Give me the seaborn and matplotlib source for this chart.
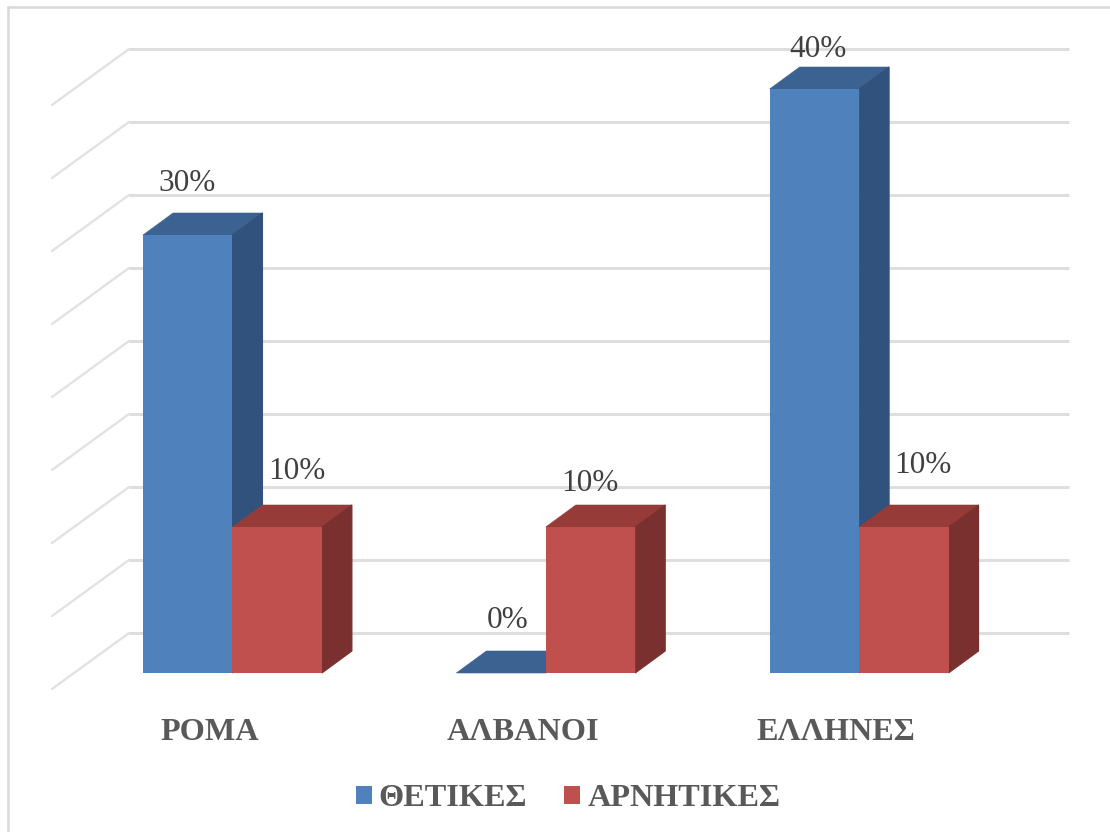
import matplotlib
matplotlib.use("Agg")
import matplotlib.pyplot as plt
from matplotlib.lines import Line2D
from matplotlib.patches import Patch, Polygon
from matplotlib.transforms import ScaledTranslation
import numpy as np
import pandas as pd
import seaborn as sns

# Survey data
groups = ["ΡΟΜΑ", "ΑΛΒΑΝΟΙ", "ΕΛΛΗΝΕΣ"]
positive = [30, 0, 40]
negative = [10, 10, 10]
series_names = ["ΘΕΤΙΚΕΣ", "ΑΡΝΗΤΙΚΕΣ"]
gridline_values = [0, 5, 10, 15, 20, 25, 30, 35, 40]

# Colours per series: front, top and side faces
front_colors = ["#4F81BD", "#C0504D"]
top_colors = ["#3B6291", "#973B38"]
side_colors = ["#31527C", "#7A302E"]

sns.set_theme(style="white")
plt.rcParams["font.family"] = ["Liberation Serif", "DejaVu Serif"]

W, H = 1110, 832
fig = plt.figure(figsize=(W / 100, H / 100), dpi=100, facecolor="white")
ax = fig.add_axes([52 / W, 1 - 689 / H, (1069 - 52) / W, (689 - 49) / H])

df = pd.DataFrame({
    "group": groups * 2,
    "series": [series_names[0]] * 3 + [series_names[1]] * 3,
    "value": positive + negative,
})
bar_width = 0.571
sns.barplot(data=df, x="group", y="value", hue="series", order=groups,
            hue_order=series_names, palette=front_colors, width=bar_width,
            gap=0, saturation=1, legend=False, linewidth=0, ax=ax)

x_left, x_right = -0.576, 2.670
y_bottom, y_top = -1.096, 42.74
ax.set_xlim(x_left, x_right)
ax.set_ylim(y_bottom, y_top)

# Oblique offsets of the chart box and of the bars, in data units
wall_dx, wall_dy = 0.2458, 3.836
bar_dx, bar_dy = 0.0958, 1.507

# Back wall gridlines with their slanted continuation along the side wall
for v in gridline_values:
    back = v + y_bottom + wall_dy
    ax.plot([x_left + wall_dx, x_right], [back, back], color="#DEDEDE", lw=2.2,
            zorder=1, solid_capstyle="butt", clip_on=False)
    ax.plot([x_left, x_left + wall_dx], [v + y_bottom, back], color="#E2E2E2", lw=1.7,
            zorder=1, solid_capstyle="round", clip_on=False)

# Extruded faces for every bar; the second series sits in front of the first
for s, container in enumerate(ax.containers):
    for patch in container:
        patch.set_zorder(2 + s * 2)
        patch.set_edgecolor("none")
        x0 = patch.get_x()
        x1 = x0 + patch.get_width()
        h = patch.get_height()
        ax.add_patch(Polygon(
            [(x0, h), (x1, h), (x1 + bar_dx, h + bar_dy), (x0 + bar_dx, h + bar_dy)],
            closed=True, facecolor=top_colors[s], edgecolor=top_colors[s], lw=0.4,
            zorder=1.4 + s * 2))
        ax.add_patch(Polygon(
            [(x1, 0), (x1 + bar_dx, bar_dy), (x1 + bar_dx, h + bar_dy), (x1, h)],
            closed=True, facecolor=side_colors[s], edgecolor=side_colors[s], lw=0.8,
            zorder=1.5 + s * 2))

# Value labels, nudged off the bars in pixels
label_offsets = [
    [(-1, 52), (7, 52), (4, 40)],
    [(20, 55), (-1, 43), (19, 61)],
]
for s, (container, values) in enumerate(zip(ax.containers, [positive, negative])):
    for patch, value, off in zip(container, values, label_offsets[s]):
        ax.annotate(f"{value}%", (patch.get_x() + patch.get_width() / 2, value),
                    xytext=off, textcoords="offset pixels", ha="center", va="center",
                    fontsize=22.5, color="#404040", zorder=8, annotation_clip=False)

# Category labels sit a little left of the group centres
ax.set_xlabel("")
ax.set_ylabel("")
ax.set_yticks([])
ax.set_xticks(range(len(groups)), groups)
ax.tick_params(axis="x", length=0, pad=21)
shift = ScaledTranslation(-23 / 100, 0, fig.dpi_scale_trans)
for tick_label in ax.get_xticklabels():
    tick_label.set_transform(tick_label.get_transform() + shift)
    tick_label.set_fontsize(23.2)
    tick_label.set_fontweight("bold")
    tick_label.set_color("#595959")

sns.despine(ax=ax, left=True, bottom=True)
ax.patch.set_alpha(0)

handles = [Patch(facecolor=c, edgecolor="none") for c in front_colors]
fig.legend(handles, series_names, loc="center", ncols=2,
           bbox_to_anchor=(568 / W, 1 - 799 / H), frameon=False,
           prop={"size": 23.2, "weight": "bold"}, labelcolor="#595959",
           handlelength=0.5, handleheight=0.5, handletextpad=0.22,
           columnspacing=1.15)

# Thin frame around the chart area
frame_kw = dict(color="#D9D9D9", lw=1.8, transform=fig.transFigure)
fig.add_artist(Line2D([8 / W, 8 / W], [0, 1 - 7 / H], **frame_kw))
fig.add_artist(Line2D([8 / W, 1], [1 - 7 / H, 1 - 7 / H], **frame_kw))

fig.savefig("out.png", dpi=100, facecolor="white")
